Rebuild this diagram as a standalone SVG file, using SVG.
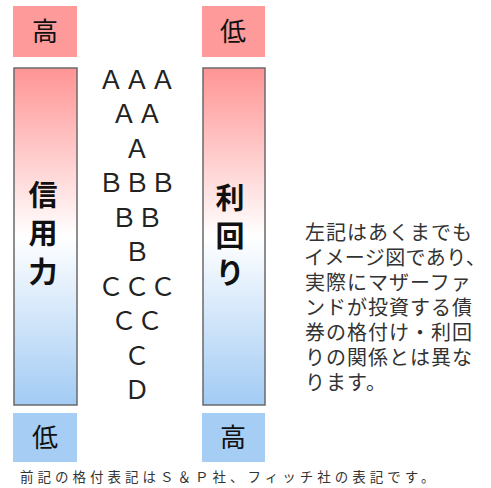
<svg xmlns="http://www.w3.org/2000/svg" width="491" height="488" viewBox="0 0 491 488">
<defs>
<linearGradient id="bar" x1="0" y1="0" x2="0" y2="1">
<stop offset="0" stop-color="#ff9494"/>
<stop offset="0.5" stop-color="#ffffff"/>
<stop offset="1" stop-color="#a2cbf4"/>
</linearGradient>
<style>
.hi{fill:#ff9a9a}
.lo{fill:#a6cdf3}
.bar{fill:url(#bar);stroke:#6a6a6a;stroke-width:1.5}
.lbl{font-family:"Noto Sans CJK JP","Noto Sans CJK SC",sans-serif;font-size:26px;fill:#111;text-anchor:middle}
.vt{font-family:"Noto Sans CJK JP",sans-serif;font-size:29px;font-weight:bold;fill:#111;text-anchor:middle}
.rt{font-family:"Noto Sans CJK JP",sans-serif;font-size:26px;fill:#222;text-anchor:middle}
.note{font-family:"Noto Sans CJK JP",sans-serif;font-size:20px;fill:#333;letter-spacing:1px}
.foot{font-family:"Noto Sans CJK JP",sans-serif;font-size:13.5px;fill:#333;letter-spacing:4px}
</style>
</defs>
<g id="credit-high"><rect class="hi" x="13" y="6" width="64" height="51"/><text class="lbl" x="45" y="41">高</text></g>
<g id="credit-bar"><rect class="bar" x="14" y="68" width="63" height="337"/>
<text class="vt" x="43" y="206">信</text><text class="vt" x="43" y="244">用</text><text class="vt" x="43" y="283">力</text></g>
<g id="credit-low"><rect class="lo" x="13" y="413" width="64" height="49"/><text class="lbl" x="45" y="447">低</text></g>
<g id="yield-low"><rect class="hi" x="202" y="6" width="63" height="51"/><text class="lbl" x="233" y="41">低</text></g>
<g id="yield-bar"><rect class="bar" x="203" y="68" width="62" height="337"/>
<text class="vt" x="230" y="209">利</text><text class="vt" x="230" y="247">回</text><text class="vt" x="230" y="284">り</text></g>
<g id="yield-high"><rect class="lo" x="202" y="413" width="63" height="49"/><text class="lbl" x="233" y="447">高</text></g>
<g id="ratings">
<text class="rt" x="137" y="88.5">ＡＡＡ</text>
<text class="rt" x="137" y="123">ＡＡ</text>
<text class="rt" x="137" y="157.5">Ａ</text>
<text class="rt" x="137" y="192">ＢＢＢ</text>
<text class="rt" x="137" y="226.5">ＢＢ</text>
<text class="rt" x="137" y="261">Ｂ</text>
<text class="rt" x="137" y="295.5">ＣＣＣ</text>
<text class="rt" x="137" y="330">ＣＣ</text>
<text class="rt" x="137" y="364.5">Ｃ</text>
<text class="rt" x="137" y="399">Ｄ</text>
</g>
<g id="note">
<text class="note"><tspan x="305" y="240">左記はあくまでも</tspan><tspan x="304" y="265" style="letter-spacing:0.4px">イメージ図であり、</tspan><tspan x="305" y="290">実際にマザーファ</tspan><tspan x="305" y="315">ンドが投資する債</tspan><tspan x="305" y="340">券の格付け・利回</tspan><tspan x="305" y="365">りの関係とは異な</tspan><tspan x="305" y="390">ります。</tspan></text>
</g>
<g id="connectors"/>
<text class="foot" x="20" y="482">前記の格付表記はＳ＆Ｐ社、フィッチ社の表記です。</text>
</svg>
